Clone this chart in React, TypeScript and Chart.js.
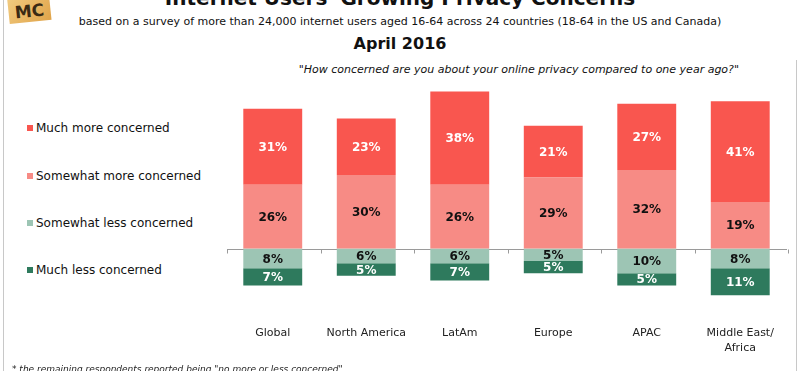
import React, { useEffect, useRef } from "react";
import { Chart, registerables } from "chart.js";

Chart.register(...registerables);

const categories = ["Global", "North America", "LatAm", "Europe", "APAC", "Middle East/|Africa"];
const muchMore = [31, 23, 38, 21, 27, 41];
const somewhatMore = [26, 30, 26, 29, 32, 19];
const somewhatLess = [8, 6, 6, 5, 10, 8];
const muchLess = [7, 5, 7, 5, 5, 11];

const seriesNames = ["Much more concerned", "Somewhat more concerned", "Somewhat less concerned", "Much less concerned"];
const seriesColors = ["#F9564F", "#F78B85", "#9DC5B4", "#2E7A5D"];
const labelColors = ["#ffffff", "#111111", "#111111", "#ffffff"];

const FONT = "'DejaVu Sans', Verdana, sans-serif";

export default function App() {
  const ref = useRef<HTMLCanvasElement | null>(null);

  useEffect(() => {
    const canvas = ref.current;
    if (!canvas) return;

    const overlay = {
      id: "overlay",
      beforeDatasetsDraw(chart: any) {
        const ctx = chart.ctx;
        const y = chart.scales.y;
        const y0 = Math.round(y.getPixelForValue(0)) + 0.5;
        const left = chart.chartArea.left;
        const right = chart.chartArea.right;
        const n = categories.length;
        const cw = (right - left) / n;
        ctx.save();
        ctx.strokeStyle = "#9a9a9a";
        ctx.lineWidth = 1;
        ctx.beginPath();
        ctx.moveTo(left + 1, y0);
        ctx.lineTo(right, y0);
        for (let i = 0; i <= n; i++) {
          const tx = Math.round(left + 1 + i * cw) + 0.5;
          ctx.moveTo(tx, y0);
          ctx.lineTo(tx, y0 + 4);
        }
        ctx.stroke();
        ctx.restore();
      },
      afterDatasetsDraw(chart: any) {
        const ctx = chart.ctx;
        const xs = chart.scales.x;
        ctx.save();
        ctx.textAlign = "center";
        ctx.textBaseline = "middle";
        chart.data.datasets.forEach((ds: any, di: number) => {
          const meta = chart.getDatasetMeta(di);
          meta.data.forEach((el: any, i: number) => {
            const v = Math.abs(ds.data[i]);
            const cy = (el.y + el.base) / 2;
            ctx.font = `bold 12px ${FONT}`;
            ctx.fillStyle = ds.labelColor;
            ctx.fillText(v + "%", el.x, cy + 1);
          });
        });
        ctx.font = `11px ${FONT}`;
        ctx.fillStyle = "#222";
        categories.forEach((c, i) => {
          const px = xs.getPixelForValue(i);
          c.split("|").forEach((line, li) => {
            ctx.fillText(line, px, 333 + li * 15);
          });
        });
        ctx.restore();
      },
    };

    const chart = new Chart(canvas, {
      type: "bar",
      data: {
        labels: categories.map((c) => c.replace("|", " ")),
        datasets: [
          { label: seriesNames[1], data: somewhatMore, backgroundColor: seriesColors[1], labelColor: labelColors[1] } as any,
          { label: seriesNames[0], data: muchMore, backgroundColor: seriesColors[0], labelColor: labelColors[0] } as any,
          { label: seriesNames[2], data: somewhatLess.map((v) => -v), backgroundColor: seriesColors[2], labelColor: labelColors[2] } as any,
          { label: seriesNames[3], data: muchLess.map((v) => -v), backgroundColor: seriesColors[3], labelColor: labelColors[3] } as any,
        ],
      },
      options: {
        responsive: false,
        animation: false,
        devicePixelRatio: 1,
        layout: { padding: { left: 226, right: 13, top: 78, bottom: 61 } },
        datasets: { bar: { categoryPercentage: 1, barPercentage: 0.63 } },
        plugins: { legend: { display: false }, title: { display: false }, tooltip: { enabled: false } },
        scales: {
          x: { stacked: true, display: false },
          y: { stacked: true, display: false, min: -25, max: 69.5 },
        },
      },
      plugins: [overlay],
    });
    return () => chart.destroy();
  }, []);

  const legendY = [128, 176, 223, 270];

  return (
    <div style={{ position: "absolute", left: 0, top: 0, width: 800, height: 371, overflow: "hidden", background: "#fff", fontFamily: FONT }}>
      <div style={{ position: "absolute", left: 3, top: 0, width: 1, height: 371, background: "#c8c8c8" }} />
      <div style={{ position: "absolute", left: 796, top: 60, width: 1, height: 311, background: "#c8c8c8" }} />
      <div
        style={{
          position: "absolute", left: 8, top: -10, width: 42, height: 32,
          background: "linear-gradient(135deg, #f3cf86, #e0a44a)", transform: "rotate(-6deg)",
          display: "flex", alignItems: "flex-end", justifyContent: "center",
          fontWeight: "bold", fontSize: 17, color: "#3a2a14", lineHeight: "20px", paddingBottom: 1, boxSizing: "border-box",
        }}
      >MC</div>
      <div style={{ position: "absolute", left: 0, width: 800, top: -14, textAlign: "center", fontWeight: "bold", fontSize: 20, lineHeight: "24px", color: "#111" }}>
        Internet Users' Growing Privacy Concerns
      </div>
      <div style={{ position: "absolute", left: 0, width: 800, top: 14, textAlign: "center", fontSize: 11, lineHeight: "16px", color: "#111" }}>
        based on a survey of more than 24,000 internet users aged 16-64 across 24 countries (18-64 in the US and Canada)
      </div>
      <div style={{ position: "absolute", left: 0, width: 800, top: 34, textAlign: "center", fontWeight: "bold", fontSize: 16, lineHeight: "20px", color: "#111" }}>
        April 2016
      </div>
      <div style={{ position: "absolute", right: 61, top: 62, fontStyle: "italic", fontSize: 11, lineHeight: "16px", color: "#111", whiteSpace: "nowrap" }}>
        "How concerned are you about your online privacy compared to one year ago?"
      </div>
      {seriesNames.map((name, i) => (
        <div key={name} style={{ position: "absolute", left: 27, top: legendY[i] - 8, height: 16, display: "flex", alignItems: "center", fontSize: 12, color: "#111", whiteSpace: "nowrap" }}>
          <span style={{ display: "inline-block", width: 6, height: 6, background: seriesColors[i], marginRight: 3 }} />
          {name}
        </div>
      ))}
      <canvas ref={ref} width={800} height={371} style={{ position: "absolute", left: 0, top: 0, width: 800, height: 371 }} />
      <div style={{ position: "absolute", left: 12, top: 363, fontStyle: "italic", fontSize: 9, lineHeight: "12px", color: "#222", whiteSpace: "nowrap" }}>
        * the remaining respondents reported being "no more or less concerned"
      </div>
    </div>
  );
}
